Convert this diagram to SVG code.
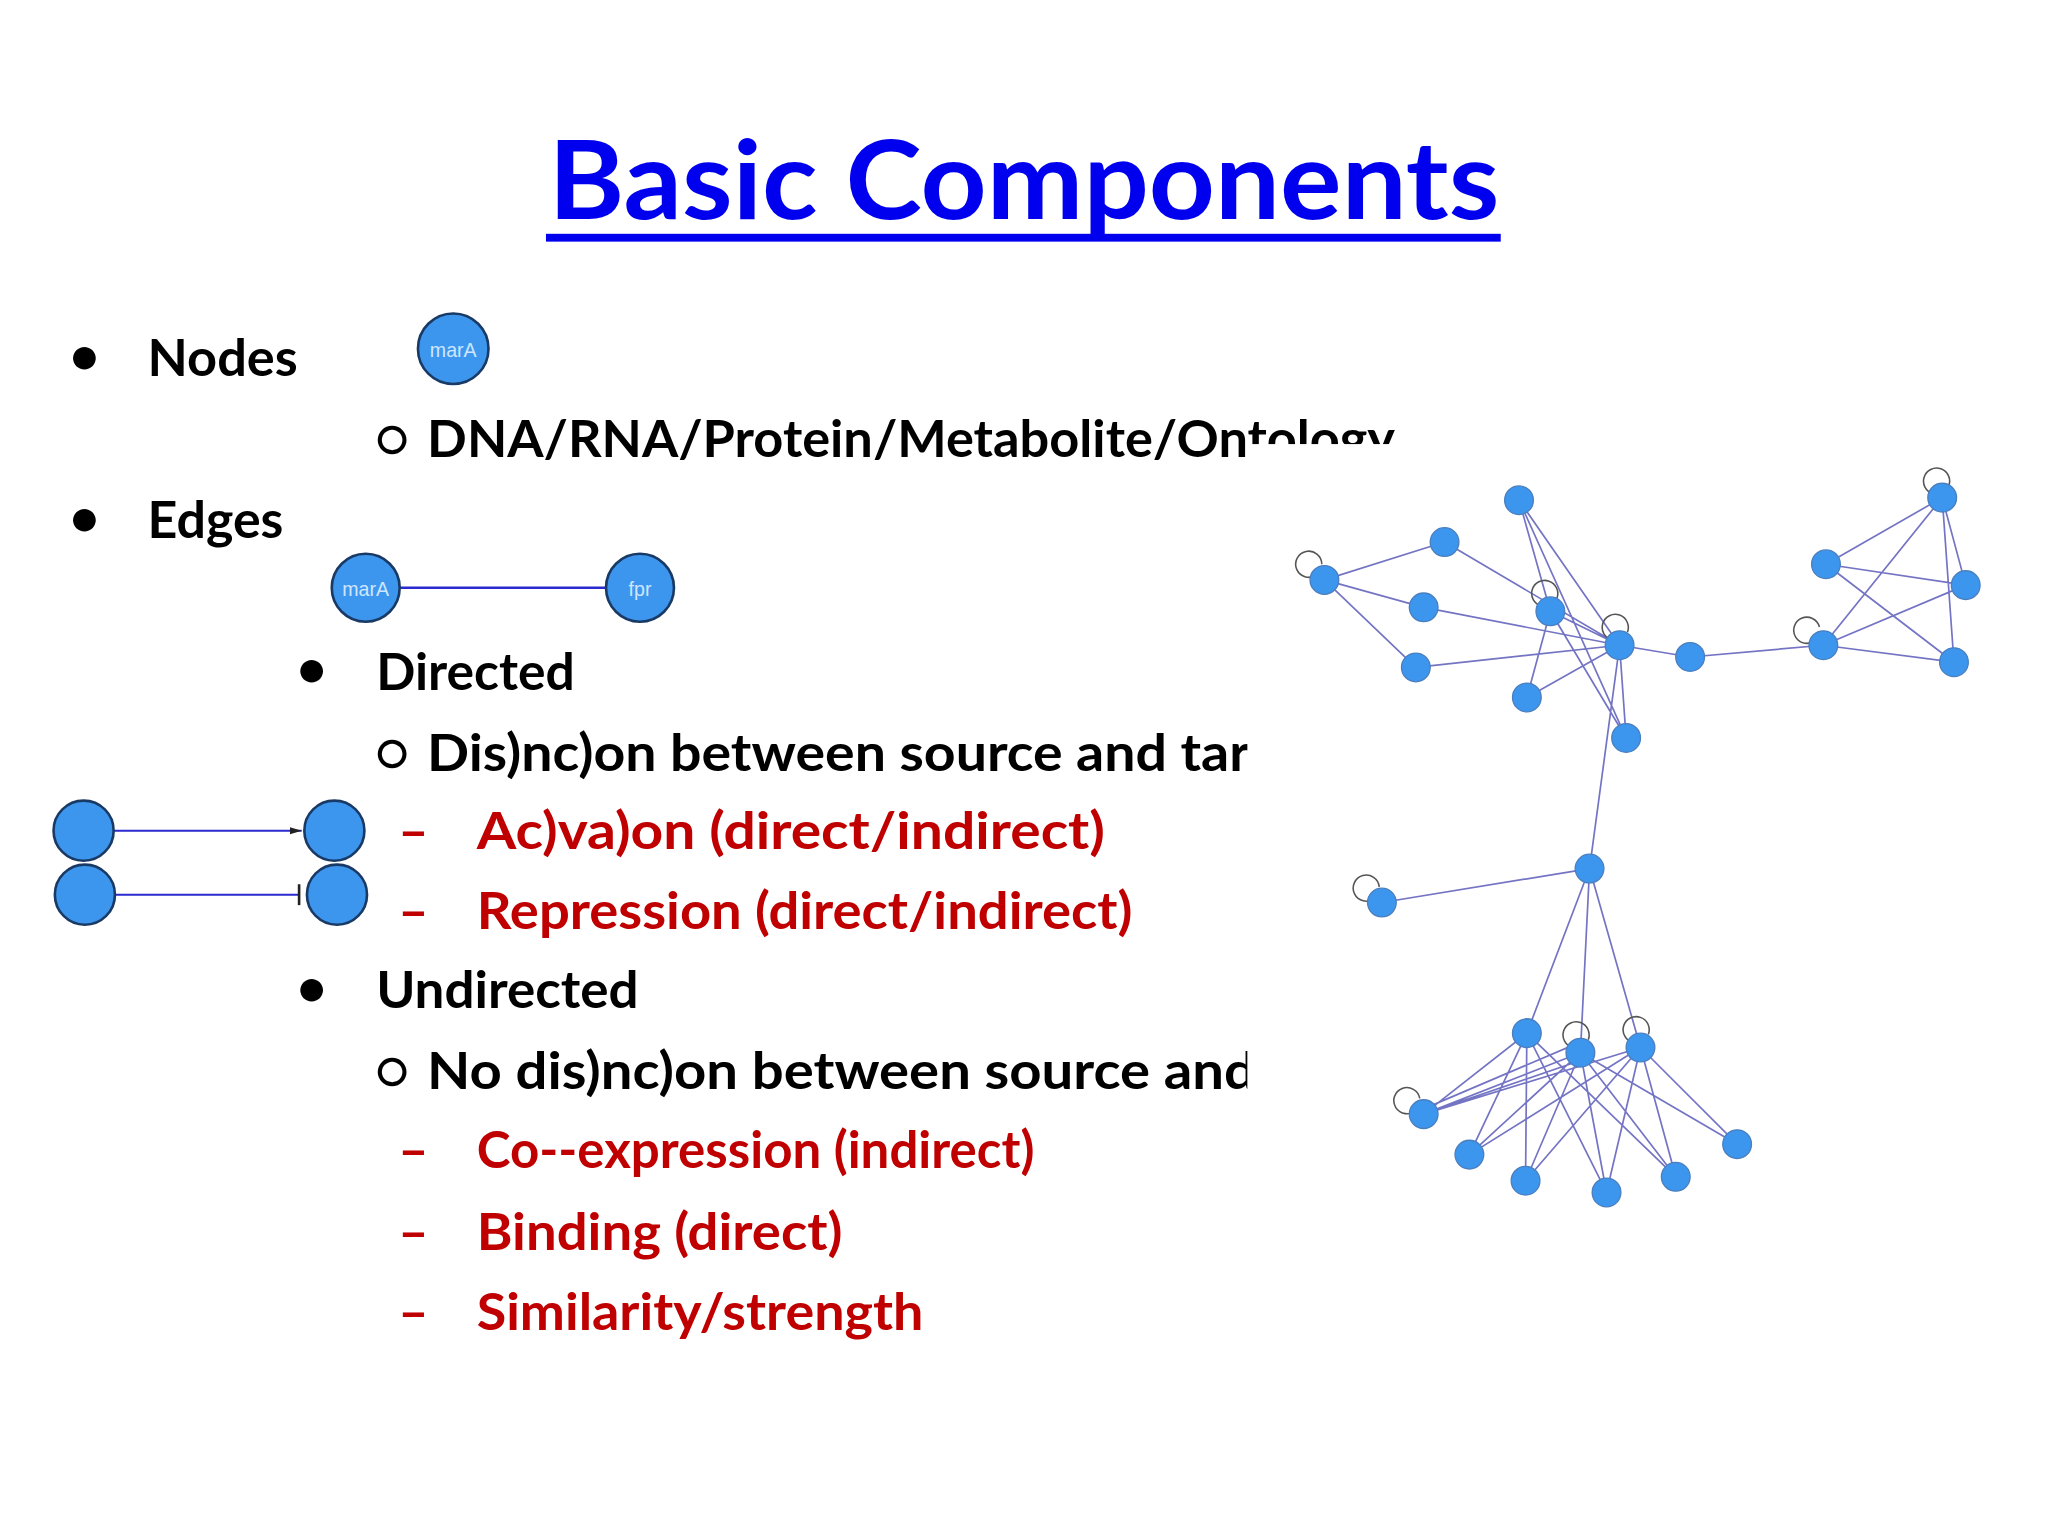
<svg xmlns="http://www.w3.org/2000/svg" width="2048" height="1536" viewBox="0 0 2048 1536">
<style>
.t{font-family:Lato,"Open Sans","Liberation Sans",sans-serif;font-weight:bold;font-size:40px;fill:#000}
.r{fill:#C00000}
.n{fill:#3d96ee;stroke:#1a3a66;stroke-width:2}
.s{fill:#3d96ee;stroke:#4a7fbf;stroke-width:1}
.e{stroke:#7474c4;stroke-width:1.3;fill:none}
.lp{stroke:#555;stroke-width:1.2;fill:none}
.lb{font-family:"Liberation Sans",sans-serif;font-size:15px;fill:#cfe6ff;text-anchor:middle}
</style>
<defs>
<marker id="ar" viewBox="0 0 10 10" refX="10" refY="5" markerWidth="6" markerHeight="6" orient="auto"><path d="M0,2L10,5L0,8z" fill="#222"/></marker>
</defs>
<rect width="2048" height="1536" fill="#fff"/>
<g transform="scale(1.30612)">
<g id="title">
<text x="420" y="168" style="font-family:Lato,'Open Sans','Liberation Sans',sans-serif;font-weight:bold;font-size:84px;fill:#0000EE" textLength="728" lengthAdjust="spacingAndGlyphs">Basic Components</text>
<rect x="418" y="179" width="731" height="6" fill="#0000EE"/>
</g>
<g id="text">
<text class="t" x="53" y="286">•</text><text class="t" x="113" y="288" textLength="115" lengthAdjust="spacingAndGlyphs">Nodes</text>
<text class="t" x="287" y="350" style="font-weight:normal">○</text>
<text class="t" x="327" y="350" textLength="741" lengthAdjust="spacingAndGlyphs">DNA/RNA/Protein/Metabolite/Ontology</text>
<text class="t" x="53" y="410">•</text><text class="t" x="113" y="412" textLength="104" lengthAdjust="spacingAndGlyphs">Edges</text>
<text class="t" x="227" y="526">•</text><text class="t" x="288" y="528" textLength="152" lengthAdjust="spacingAndGlyphs">Directed</text>
<text class="t" x="287" y="590" style="font-weight:normal">○</text>
<text class="t" x="327" y="590" textLength="690" lengthAdjust="spacingAndGlyphs">Dis)nc)on  between source and target</text>
<text class="t r" x="305" y="650">–</text><text class="t r" x="365" y="650" textLength="481" lengthAdjust="spacingAndGlyphs">Ac)va)on (direct/indirect)</text>
<text class="t r" x="305" y="711">–</text><text class="t r" x="365" y="711" textLength="502" lengthAdjust="spacingAndGlyphs">Repression (direct/indirect)</text>
<text class="t" x="227" y="770">•</text><text class="t" x="288" y="772" textLength="201" lengthAdjust="spacingAndGlyphs">Undirected</text>
<text class="t" x="287" y="834" style="font-weight:normal">○</text>
<text class="t" x="327" y="834" textLength="760" lengthAdjust="spacingAndGlyphs">No dis)nc)on  between source and target</text>
<text class="t r" x="305" y="894">–</text><text class="t r" x="365" y="894" textLength="427" lengthAdjust="spacingAndGlyphs">Co--expression (indirect)</text>
<text class="t r" x="305" y="957">–</text><text class="t r" x="365" y="957" textLength="280" lengthAdjust="spacingAndGlyphs">Binding (direct)</text>
<text class="t r" x="305" y="1018">–</text><text class="t r" x="365" y="1018" textLength="342" lengthAdjust="spacingAndGlyphs">Similarity/strength</text>
</g>
<g id="node-marA"><circle class="n" cx="347" cy="267" r="27"/><text class="lb" x="347" y="273">marA</text></g>
<g id="edge-example">
<line x1="306" y1="450" x2="464" y2="450" stroke="#2a2ad0" stroke-width="2"/>
<g id="edge-marA"><circle class="n" cx="280" cy="450" r="26"/><text class="lb" x="280" y="456">marA</text></g>
<g id="edge-fpr"><circle class="n" cx="490" cy="450" r="26"/><text class="lb" x="490" y="456">fpr</text></g>
</g>
<g id="directed-examples">
<line x1="87" y1="636" x2="231" y2="636" stroke="#2a2ad0" stroke-width="1.5" marker-end="url(#ar)"/>
<line x1="87" y1="685" x2="229" y2="685" stroke="#2a2ad0" stroke-width="1.5"/>
<line x1="229" y1="677" x2="229" y2="693" stroke="#222" stroke-width="2"/>
<circle class="n" cx="64" cy="636" r="23"/><circle class="n" cx="256" cy="636" r="23"/>
<circle class="n" cx="65" cy="685" r="23"/><circle class="n" cx="258" cy="685" r="23"/>
</g>
<rect x="955" y="340" width="613" height="640" fill="#fff"/>
<g id="network">
<g id="connectors">
<path class="e" d="M1014,444L1106,415M1014,444L1090,465M1014,444L1084,511M1106,415L1240,494M1090,465L1240,494M1084,511L1240,494M1163,383L1187,468M1163,383L1240,494M1163,383L1245,565M1187,468L1240,494M1187,468L1169,534M1169,534L1240,494M1187,468L1245,565M1240,494L1245,565M1240,494L1294,503M1294,503L1396,494M1240,494L1217,665M1396,494L1487,381M1398,432L1487,381M1487,381L1505,448M1487,381L1496,507M1398,432L1505,448M1398,432L1496,507M1396,494L1505,448M1396,494L1496,507M1217,665L1058,691M1217,665L1169,791M1217,665L1210,806M1217,665L1256,802"/>
<path class="e" d="M1169,791L1090,853M1169,791L1125,884M1169,791L1168,904M1169,791L1230,913M1169,791L1283,901M1210,806L1090,853M1210,806L1125,884M1210,806L1168,904M1210,806L1230,913M1210,806L1283,901M1210,806L1330,876M1256,802L1090,853M1256,802L1125,884M1256,802L1168,904M1256,802L1230,913M1256,802L1283,901M1256,802L1330,876M1090,853L1210,812M1090,849L1205,800"/>
<path class="lp" d="M1008,440a10,10 0 1 1 4,-8M1180,464a10,10 0 1 1 12,-6M1234,490a10,10 0 1 1 12,-6M1390,490a10,10 0 1 1 3,-10M1480,378a10,10 0 1 1 12,-6M1052,688a10,10 0 1 1 4,-9M1084,850a10,10 0 1 1 3,-9M1204,802a10,10 0 1 1 12,-6M1250,798a10,10 0 1 1 12,-6"/>
</g>
<g id="n1"><circle class="s" cx="1163" cy="383" r="11"/></g>
<g id="n2"><circle class="s" cx="1106" cy="415" r="11"/></g>
<g id="n3"><circle class="s" cx="1014" cy="444" r="11"/></g>
<g id="n4"><circle class="s" cx="1090" cy="465" r="11"/></g>
<g id="n5"><circle class="s" cx="1084" cy="511" r="11"/></g>
<g id="n6"><circle class="s" cx="1187" cy="468" r="11"/></g>
<g id="n7"><circle class="s" cx="1240" cy="494" r="11"/></g>
<g id="n8"><circle class="s" cx="1169" cy="534" r="11"/></g>
<g id="n9"><circle class="s" cx="1245" cy="565" r="11"/></g>
<g id="n10"><circle class="s" cx="1294" cy="503" r="11"/></g>
<g id="n11"><circle class="s" cx="1396" cy="494" r="11"/></g>
<g id="n12"><circle class="s" cx="1487" cy="381" r="11"/></g>
<g id="n13"><circle class="s" cx="1398" cy="432" r="11"/></g>
<g id="n14"><circle class="s" cx="1505" cy="448" r="11"/></g>
<g id="n15"><circle class="s" cx="1496" cy="507" r="11"/></g>
<g id="n16"><circle class="s" cx="1217" cy="665" r="11"/></g>
<g id="n17"><circle class="s" cx="1058" cy="691" r="11"/></g>
<g id="n18"><circle class="s" cx="1169" cy="791" r="11"/></g>
<g id="n19"><circle class="s" cx="1210" cy="806" r="11"/></g>
<g id="n20"><circle class="s" cx="1256" cy="802" r="11"/></g>
<g id="n21"><circle class="s" cx="1090" cy="853" r="11"/></g>
<g id="n22"><circle class="s" cx="1125" cy="884" r="11"/></g>
<g id="n23"><circle class="s" cx="1168" cy="904" r="11"/></g>
<g id="n24"><circle class="s" cx="1230" cy="913" r="11"/></g>
<g id="n25"><circle class="s" cx="1283" cy="901" r="11"/></g>
<g id="n26"><circle class="s" cx="1330" cy="876" r="11"/></g>
</g>
</g>
</svg>
